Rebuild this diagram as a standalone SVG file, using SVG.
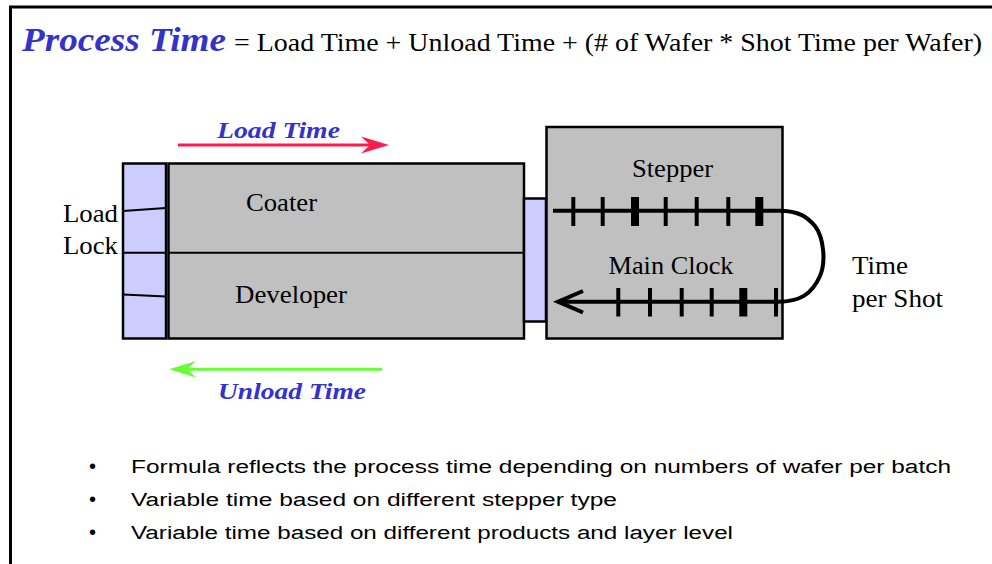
<svg xmlns="http://www.w3.org/2000/svg" width="992" height="564" viewBox="0 0 992 564">
<style>
.serif{font-family:"Liberation Serif","Times New Roman",serif;fill:#000}
.lbl{font-size:25px}
.blue{font-family:"Liberation Serif","Times New Roman",serif;font-weight:bold;font-style:italic;fill:#3333cc}
.box{stroke:#000;stroke-width:2.5}
.gray{fill:#c0c0c0}
.lav{fill:#ccccff}
.thin{stroke:#000;stroke-width:2;fill:none}
.clk{stroke:#000;stroke-width:4;fill:none}
.tick{stroke:#000;stroke-width:4}
.tickb{stroke:#000;stroke-width:8}
.bul{font-family:"Liberation Sans",Arial,sans-serif;font-size:18px;fill:#000}
.dot{font-family:"Liberation Sans",Arial,sans-serif;font-size:20px;fill:#000}
</style>
<rect width="992" height="564" fill="#fff"/>
<path d="M10.5,564 V7 H992" fill="none" stroke="#000" stroke-width="3"/>

<g id="title">
<text class="blue" x="22" y="51" font-size="34" textLength="204" lengthAdjust="spacingAndGlyphs">Process Time</text>
<text class="serif" x="234" y="51" font-size="26" textLength="748" lengthAdjust="spacingAndGlyphs">= Load  Time + Unload Time + (# of Wafer  * Shot Time per Wafer)</text>
</g>

<g id="load-lock">
<rect class="box lav" x="123" y="163.5" width="43" height="175"/>
<line class="thin" x1="123" y1="211" x2="166" y2="208"/>
<line class="thin" x1="123" y1="252.7" x2="166" y2="252.7"/>
<line class="thin" x1="123" y1="294.5" x2="166" y2="296.5"/>
<text class="serif lbl" x="63" y="222" textLength="55" lengthAdjust="spacingAndGlyphs">Load</text>
<text class="serif lbl" x="63" y="254" textLength="55" lengthAdjust="spacingAndGlyphs">Lock</text>
</g>

<g id="coater-developer">
<rect class="box gray" x="168.5" y="163.5" width="355.5" height="175"/>
<line class="thin" x1="168.5" y1="252.7" x2="524" y2="252.7"/>
<text class="serif lbl" x="246" y="210.7" textLength="71" lengthAdjust="spacingAndGlyphs">Coater</text>
<text class="serif lbl" x="235" y="302.5" textLength="112" lengthAdjust="spacingAndGlyphs">Developer</text>
</g>

<g id="interface">
<rect class="box lav" x="524" y="198.5" width="22" height="123"/>
</g>

<g id="stepper">
<rect class="box gray" x="546.5" y="127" width="236" height="211.5"/>
<text class="serif lbl" x="632" y="176.7" textLength="81" lengthAdjust="spacingAndGlyphs">Stepper</text>
<text class="serif lbl" x="608.5" y="274" textLength="125" lengthAdjust="spacingAndGlyphs">Main Clock</text>
</g>

<g id="time-per-shot">
<text class="serif lbl" x="852" y="274" textLength="56" lengthAdjust="spacingAndGlyphs">Time</text>
<text class="serif lbl" x="852" y="306.5" textLength="91" lengthAdjust="spacingAndGlyphs">per Shot</text>
</g>

<g id="connectors">
<line x1="178" y1="145" x2="375" y2="145" stroke="#ff1a4d" stroke-width="3"/>
<path d="M389,145 L361,136.5 L370,145 L361,153.5 Z" fill="#ff1a4d"/>
<text class="blue" x="217" y="138.3" font-size="23" textLength="123" lengthAdjust="spacingAndGlyphs">Load Time</text>
<line x1="182" y1="369.3" x2="382" y2="369.3" stroke="#66ff33" stroke-width="3"/>
<path d="M169,369.3 L196,361 L187,369.3 L196,377.5 Z" fill="#66ff33"/>
<text class="blue" x="218" y="399" font-size="23" textLength="148" lengthAdjust="spacingAndGlyphs">Unload Time</text>
<line class="clk" x1="553" y1="210.7" x2="776" y2="210.7"/>
<g>
<line class="tick" x1="573.3" y1="197" x2="573.3" y2="226"/>
<line class="tick" x1="602.7" y1="197" x2="602.7" y2="226"/>
<line class="tickb" x1="635" y1="197" x2="635" y2="226"/>
<line class="tick" x1="665.7" y1="197" x2="665.7" y2="226"/>
<line class="tick" x1="696.7" y1="197" x2="696.7" y2="226"/>
<line class="tick" x1="728.3" y1="197" x2="728.3" y2="226"/>
<line class="tickb" x1="759.3" y1="197" x2="759.3" y2="226"/>
</g>
<path class="clk" d="M776,210.7 C800,210 808,218 815,226 C824,238 826,262 820,276 C812,294 800,301.7 778,301.7"/>
<line class="clk" x1="558" y1="301.7" x2="778" y2="301.7"/>
<path class="clk" d="M583,291 L558,301.7 L583,312.5"/>
<g>
<line class="tick" x1="618.3" y1="288" x2="618.3" y2="316.5"/>
<line class="tick" x1="650" y1="288" x2="650" y2="316.5"/>
<line class="tick" x1="681.7" y1="288" x2="681.7" y2="316.5"/>
<line class="tick" x1="711.7" y1="288" x2="711.7" y2="316.5"/>
<line class="tickb" x1="743.3" y1="288" x2="743.3" y2="316.5"/>
<line class="tick" x1="776" y1="288" x2="776" y2="316.5"/>
</g>
</g>

<g id="bullets">
<text class="dot" x="89" y="473">•</text>
<text class="bul" x="131" y="473" textLength="820" lengthAdjust="spacingAndGlyphs">Formula reflects the process  time depending on numbers of wafer  per batch</text>
<text class="dot" x="89" y="506">•</text>
<text class="bul" x="131" y="506" textLength="486" lengthAdjust="spacingAndGlyphs">Variable time  based on  different stepper type</text>
<text class="dot" x="89" y="539">•</text>
<text class="bul" x="131" y="539" textLength="602" lengthAdjust="spacingAndGlyphs">Variable time  based on  different products and layer level</text>
</g>
</svg>
